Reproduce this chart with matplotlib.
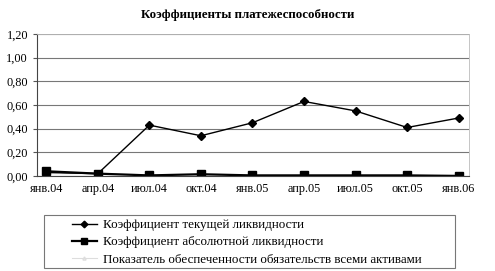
import matplotlib
matplotlib.use("Agg")
import matplotlib.pyplot as plt
from matplotlib.ticker import FuncFormatter
from matplotlib.patches import Rectangle

plt.rcParams['font.family'] = ['Liberation Serif', 'DejaVu Serif']

categories = ["янв.04", "апр.04", "июл.04", "окт.04", "янв.05", "апр.05", "июл.05", "окт.05", "янв.06"]
current_liq = [0.03, 0.02, 0.43, 0.34, 0.45, 0.63, 0.55, 0.41, 0.49]
absolute_liq = [0.04, 0.02, 0.005, 0.015, 0.005, 0.005, 0.005, 0.005, 0.0]
coverage = [0.02, 0.02, 0.01, 0.01, 0.01, 0.01, 0.01, 0.01, 0.01]
series_names = ["Коэффициент текущей ликвидности",
                "Коэффициент абсолютной ликвидности",
                "Показатель обеспеченности обязательств всеми активами"]
title = "Коэффициенты платежеспособности"

W, H = 495, 271
fig = plt.figure(figsize=(W / 100, H / 100), dpi=100)
ax = fig.add_axes([37 / W, 1 - 176 / H, 432 / W, 142 / H])
x = list(range(len(categories)))

l3, = ax.plot(x, coverage, color='#dddddd', lw=0.8, marker='^', ms=3, mfc='none', mec='#dddddd')
l1, = ax.plot(x, current_liq, color='black', lw=1.0, marker='D', ms=4.5)
l2, = ax.plot(x, absolute_liq, color='black', lw=1.6, marker='s', ms=6)

ax.set_xlim(-0.18, 8.2)
ax.set_ylim(0, 1.2)
ax.set_yticks([0, 0.2, 0.4, 0.6, 0.8, 1.0, 1.2])
ax.yaxis.set_major_formatter(FuncFormatter(lambda v, p: f"{v:.2f}".replace('.', ',')))
ax.set_xticks(x)
ax.set_xticklabels(categories)
ax.tick_params(axis='both', labelsize=8.8, length=3, color='#555555')
ax.tick_params(axis='x', length=0, pad=5)
ax.grid(axis='y', color='#777777', lw=0.8)
ax.set_axisbelow(True)
for s in ['top', 'right']:
    ax.spines[s].set_color('#bbbbbb')
    ax.spines[s].set_linewidth(0.6)
for s in ['left', 'bottom']:
    ax.spines[s].set_color('#444444')
    ax.spines[s].set_linewidth(0.8)

fig.text(0.5, 1 - 15 / H, title, ha='center', va='center', fontsize=9.3, fontweight='bold')

# legend frame
fig.patches.append(Rectangle((44 / W, 1 - 268 / H), 411 / W, 53 / H,
                             transform=fig.transFigure, fill=False,
                             edgecolor='#777777', lw=0.8))
leg = fig.legend([l1, l2, l3], series_names, loc='upper left',
                 bbox_to_anchor=(72 / W, 1 - 219 / H),
                 fontsize=9.4, frameon=False, markerscale=0.75,
                 handlelength=1.9, borderpad=0.0, labelspacing=0.4, handletextpad=0.45,
                 borderaxespad=0)

fig.savefig("out.png", dpi=100)
